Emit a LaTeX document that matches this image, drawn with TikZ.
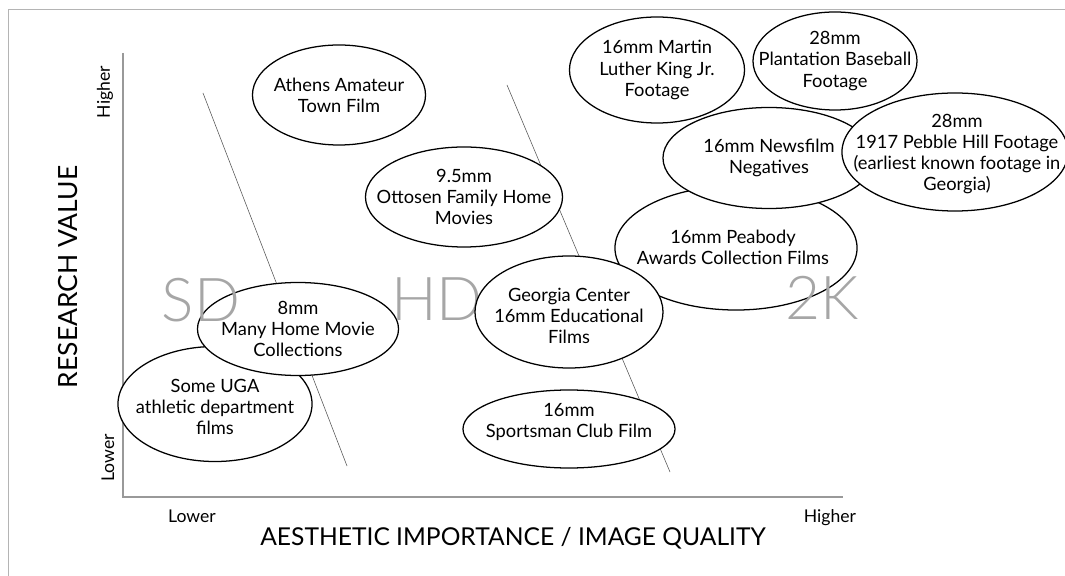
\documentclass[tikz,border=0pt]{standalone}
\usepackage{fontspec}
\setmainfont{Lato}
\newfontfamily\zonefont{Lato Light}
\usetikzlibrary{shapes.geometric}
\definecolor{axisgray}{HTML}{999999}
\definecolor{framegray}{HTML}{B4B4B4}
\definecolor{zonegray}{HTML}{A6A6A6}
\definecolor{splitgray}{HTML}{555555}
\begin{document}
\begin{tikzpicture}[x=0.025cm, y=-0.025cm,
    film/.style={ellipse, draw=black, line width=0.9pt, fill=white, inner sep=0pt},
    filmtext/.style={align=center, font=\fontsize{13}{15}\selectfont, inner sep=0pt},
    zone/.style={text=zonegray, font=\zonefont\fontsize{43}{43}\selectfont, inner sep=0pt},
    tick/.style={font=\fontsize{12.5}{14}\selectfont, inner sep=0pt},
    title/.style={font=\fontsize{17.5}{20}\selectfont, inner sep=0pt}]
  \useasboundingbox (0,0) rectangle (1065,576);
  \draw[framegray, line width=0.7pt] (1065,9) -- (8,9) -- (8,576);

  % axes
  \coordinate (top) at (123,53);
  \coordinate (origin) at (123,497);
  \coordinate (right) at (843,497);
  \draw[axisgray, line width=1pt] (top) -- (origin) -- (right);
  \node[tick, rotate=90] (yhigh) at (105,92) {Higher};
  \node[tick, rotate=90] (ylow) at (108,458) {Lower};
  \node[tick] (xlow) at (192,516) {Lower};
  \node[tick] (xhigh) at (830,518) {Higher};
  \node[title, rotate=90, font=\fontsize{18.8}{20}\selectfont] (ytitle) at (68,277) {RESEARCH VALUE};
  \node[title] (xtitle) at (513,538) {AESTHETIC IMPORTANCE / IMAGE QUALITY};

  % dividing lines
  \coordinate (sd-top) at (203,93);
  \coordinate (sd-bot) at (347,466);
  \coordinate (hd-top) at (507,85);
  \coordinate (hd-bot) at (670,472);
  \draw[splitgray, line width=0.4pt] (sd-top) -- (sd-bot);
  \draw[splitgray, line width=0.4pt] (hd-top) -- (hd-bot);

  % films
  \node[film, minimum width=4.325cm, minimum height=2.5cm] (athens) at (339,95) {};
  \node[filmtext] (athens-t) at (athens) {Athens Amateur\\Town Film};
  \node[film, minimum width=4.925cm, minimum height=2.5cm] (ottosen) at (464,197) {};
  \node[filmtext] (ottosen-t) at (ottosen) {9.5mm\\Ottosen Family Home\\Movies};
  \node[film, minimum width=4.375cm, minimum height=2.65cm] (mlk) at (657,70) {};
  \node[filmtext] (mlk-t) at (mlk) {16mm Martin\\Luther King Jr.\\Footage};
  \node[film, minimum width=4.1cm, minimum height=2.45cm] (baseball) at (835,61) {};
  \node[filmtext] (baseball-t) at (baseball) {28mm\\Plantation Baseball\\Footage};
  \node[film, minimum width=6.05cm, minimum height=3.1cm] (peabody) at (736,248) {};
  \node[filmtext] (peabody-t) at (733,247) {16mm Peabody\\Awards Collection Films};
  \node[film, minimum width=5.3cm, minimum height=2.525cm] (newsfilm) at (769,158) {};
  \node[filmtext] (newsfilm-t) at (newsfilm) {16mm Newsfilm\\Negatives};
  \node[film, minimum width=5.65cm, minimum height=2.95cm] (pebble) at (955,152) {};
  \node[filmtext] (pebble-t) at (957,154) {28mm\\1917 Pebble Hill Footage\\(earliest known footage in\\Georgia)};
  \node[film, minimum width=4.85cm, minimum height=2.875cm] (uga) at (215,404) {};
  \node[filmtext] (uga-t) at (215,407) {Some UGA\\athletic department\\films};
  \node[film, minimum width=5.025cm, minimum height=2.325cm] (home) at (298,329) {};
  \node[filmtext] (home-t) at (home) {8mm\\Many Home Movie\\Collections};
  \node[zone] (hd) at (437,299) {HD};
  \node[film, minimum width=4.7cm, minimum height=2.8cm] (georgia) at (569,312) {};
  \node[filmtext] (georgia-t) at (569,316) {Georgia Center\\16mm Educational\\Films};
  \node[film, minimum width=5.3cm, minimum height=1.95cm] (sportsman) at (569,429) {};
  \node[filmtext] (sportsman-t) at (569,422) {16mm\\Sportsman Club Film};
  \node[zone] (sd) at (201,300) {SD};
  \node[zone] (twok) at (822,298) {2K};
\end{tikzpicture}
\end{document}
